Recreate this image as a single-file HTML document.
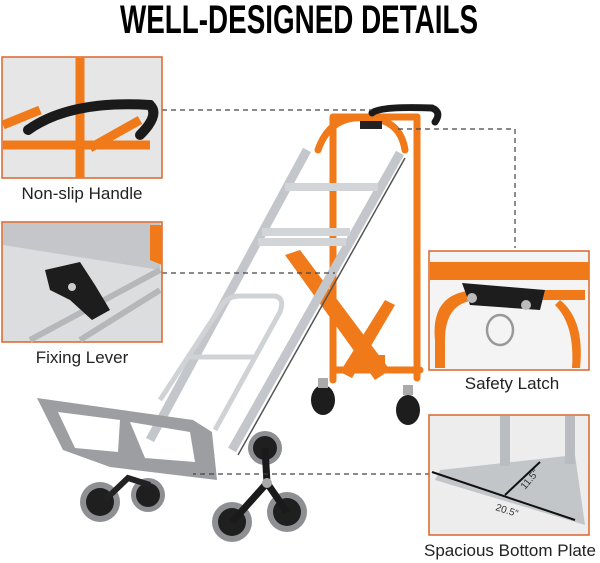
<!DOCTYPE html>
<html><head><meta charset="utf-8"><style>
html,body{margin:0;padding:0;background:#fff}
svg{display:block}
text{font-family:"Liberation Sans",sans-serif}
</style></head><body>
<svg width="600" height="563" viewBox="0 0 600 563" xmlns="http://www.w3.org/2000/svg">
<rect width="600" height="563" fill="#fff"/>
<text x="299" y="33" text-anchor="middle" font-family="Liberation Sans Narrow, Liberation Sans, sans-serif" font-weight="bold" font-size="40" textLength="358" lengthAdjust="spacingAndGlyphs">WELL-DESIGNED DETAILS</text>

<!-- orange frame -->
<g stroke="#f07a1a" stroke-width="7" fill="none" stroke-linecap="round">
<path d="M333 117 L333 380"/>
<path d="M417 117 L417 378"/>
<path d="M318 150 Q330 115 365 118 Q400 118 405 150"/>
<path d="M333 117 H417"/>
<path d="M333 370 H420"/>
</g>
<polygon points="285,255 300,250 390,370 375,380" fill="#f07a1a"/>
<polygon points="340,372 385,300 395,305 352,378" fill="#f07a1a"/>
<rect x="355" y="355" width="30" height="18" fill="#f07a1a"/>
<!-- casters -->
<g fill="#1d1d1d"><ellipse cx="323" cy="400" rx="12" ry="15"/><ellipse cx="408" cy="410" rx="12" ry="15"/></g>
<g fill="#aaa"><rect x="318" y="378" width="10" height="10"/><rect x="403" y="385" width="10" height="10"/></g>
<!-- handle -->
<path d="M372 113 Q380 106 432 108 Q442 112 435 122" stroke="#1a1a1a" stroke-width="7" fill="none" stroke-linecap="round"/>
<rect x="360" y="121" width="22" height="8" fill="#222"/>
<!-- silver rails -->
<g stroke="#c3c6ca" stroke-width="9" fill="none" stroke-linecap="butt">
<path d="M307 150 L150 440"/>
<path d="M400 153 L232 450"/>
</g>
<g stroke="#555" stroke-width="1.5"><path d="M405 158 L238 455"/></g>
<g stroke="#d2d5d8" stroke-width="8" fill="none">
<path d="M285 187 H378"/>
<path d="M262 232 H350"/>
<path d="M258 242 H346"/>
</g>
<!-- inner loop handle -->
<g stroke="#d0d3d6" stroke-width="5" fill="none">
<path d="M160 400 L222 305 Q228 296 240 296 H275 Q285 298 280 312 L215 430"/>
<path d="M190 357 H255"/>
</g>
<!-- plate -->
<path d="M37 398 L193 420 L212 432 L217 480 L110 467 L63 450 Z M58 412 L120 420 L118 452 L75 448 Z M130 422 L190 432 L195 462 L145 458 Z" fill="#9c9ea1" fill-rule="evenodd"/>
<!-- small wheels -->
<circle cx="100" cy="502" r="20" fill="#8e8f92"/><circle cx="100" cy="502" r="14" fill="#1f1f1f"/>
<circle cx="148" cy="495" r="17" fill="#8e8f92"/><circle cx="148" cy="495" r="12" fill="#1f1f1f"/>
<path d="M105 500 L128 478 L150 485" stroke="#222" stroke-width="6" fill="none"/>
<!-- stair wheels -->
<g>
<circle cx="265" cy="448" r="17" fill="#8e8f92"/><circle cx="265" cy="448" r="12" fill="#1f1f1f"/>
<circle cx="232" cy="522" r="20" fill="#8e8f92"/><circle cx="232" cy="522" r="14" fill="#1f1f1f"/>
<circle cx="287" cy="512" r="20" fill="#8e8f92"/><circle cx="287" cy="512" r="14" fill="#1f1f1f"/>
<path d="M265 448 L267 483 M267 483 L232 522 M267 483 L287 512" stroke="#1a1a1a" stroke-width="7" fill="none"/>
<circle cx="267" cy="483" r="5" fill="#aaa"/>
</g>

<!-- dashed leaders -->
<g stroke="#444" stroke-width="1.2" stroke-dasharray="5,4" fill="none">
<path d="M162 110 H372"/>
<path d="M398 129 H515 V248"/>
<path d="M162 273 H335"/>
<path d="M430 474 H193"/>
</g>

<!-- box 1 -->
<rect x="2" y="57" width="160" height="121" fill="#e6e6e6" stroke="#d8662a" stroke-width="1.5"/>
<g stroke="#f07a1a" stroke-width="9" fill="none">
<path d="M80 58 V178"/><path d="M3 125 L40 110"/><path d="M3 145 L150 145"/><path d="M90 148 L140 120"/>
</g>
<path d="M28 130 Q70 100 150 105 Q160 115 140 135" stroke="#1a1a1a" stroke-width="10" fill="none" stroke-linecap="round"/>
<text x="82" y="199" text-anchor="middle" font-size="17" fill="#222">Non-slip Handle</text>

<!-- box 2 -->
<rect x="2" y="222" width="160" height="120" fill="#dcdddf" stroke="#d8662a" stroke-width="1.5"/>
<polygon points="3,223 160,223 160,270 3,245" fill="#c4c6c9"/>
<g stroke="#b5b8bb" stroke-width="6"><path d="M30 340 L160 270"/><path d="M80 340 L160 290"/></g>
<polygon points="45,270 80,262 95,285 110,310 92,320 70,300 50,290" fill="#1d1d1d"/>
<circle cx="72" cy="287" r="4" fill="#ccc"/>
<polygon points="150,225 162,225 162,265 150,260" fill="#f07a1a"/>
<text x="82" y="363" text-anchor="middle" font-size="17" fill="#222">Fixing Lever</text>

<!-- box 3 -->
<rect x="429" y="251" width="160" height="119" fill="#f4f4f4" stroke="#d8662a" stroke-width="1.5"/>
<path d="M430 262 H589 V280 H430 Z" fill="#f07a1a"/>
<path d="M435 340 Q430 290 480 290 H585 V300 H480 Q445 300 445 340 V368 H435 Z" fill="#f07a1a"/>
<path d="M560 300 Q585 320 580 368 L572 368 Q575 325 555 305 Z" fill="#f07a1a"/>
<polygon points="462,283 545,290 540,310 470,305" fill="#1d1d1d"/>
<circle cx="472" cy="298" r="5" fill="#bbb"/><circle cx="526" cy="305" r="5" fill="#bbb"/>
<ellipse cx="500" cy="330" rx="13" ry="15" stroke="#999" stroke-width="2.5" fill="none"/>
<text x="512" y="389" text-anchor="middle" font-size="17" fill="#222">Safety Latch</text>

<!-- box 4 -->
<rect x="429" y="415" width="160" height="120" fill="#ededed" stroke="#d8662a" stroke-width="1.5"/>
<polygon points="440,470 575,455 585,525 435,480" fill="#c3c6c9"/>
<rect x="500" y="416" width="10" height="50" fill="#b9bcc0"/><rect x="565" y="416" width="10" height="48" fill="#b9bcc0"/>
<path d="M432 472 L575 520 M505 495 L540 462" stroke="#111" stroke-width="2"/>
<text x="495" y="510" font-size="10" fill="#333" transform="rotate(18 495 510)">20.5"</text>
<text x="525" y="490" font-size="10" fill="#333" transform="rotate(-50 525 490)">11.5"</text>
<text x="510" y="556" text-anchor="middle" font-size="17" fill="#222">Spacious Bottom Plate</text>
</svg>
</body></html>
